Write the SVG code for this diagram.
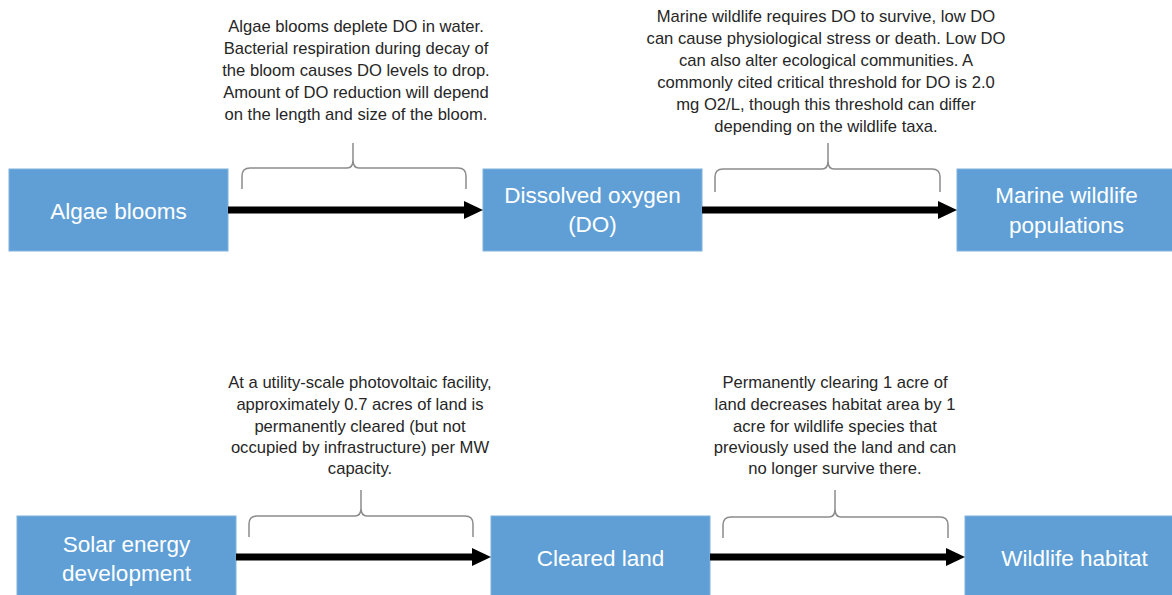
<svg xmlns="http://www.w3.org/2000/svg" width="1172" height="595" viewBox="0 0 1172 595">
<style>
.box{fill:#5F9FD6;stroke:#7FB2DE;stroke-width:1}
.lbl{font-family:"Liberation Sans",Arial,sans-serif;font-size:22.5px;fill:#ffffff;text-anchor:middle}
.note{font-family:"Liberation Sans",Arial,sans-serif;font-size:16.6px;fill:#262626;text-anchor:middle}
.brace{fill:none;stroke:#8C8C8C;stroke-width:1.5}
.shaft{stroke:#000;stroke-width:7}
.head{fill:#000}
</style>
<rect width="1172" height="595" fill="#ffffff"/>

<g id="node-algae">
<rect class="box" x="9" y="169" width="219" height="82"/>
<text class="lbl" x="118.5" y="219">Algae blooms</text>
</g>
<g id="node-do">
<rect class="box" x="483" y="169" width="219" height="82"/>
<text class="lbl" x="592.5" y="203">Dissolved oxygen</text>
<text class="lbl" x="592.5" y="232">(DO)</text>
</g>
<g id="node-marine">
<rect class="box" x="957" y="169" width="219" height="82"/>
<text class="lbl" x="1066.5" y="203">Marine wildlife</text>
<text class="lbl" x="1066.5" y="233">populations</text>
</g>
<g id="node-solar">
<rect class="box" x="17" y="516" width="219" height="82"/>
<text class="lbl" x="126.5" y="552">Solar energy</text>
<text class="lbl" x="126.5" y="581">development</text>
</g>
<g id="node-cleared">
<rect class="box" x="491" y="516" width="219" height="82"/>
<text class="lbl" x="600.5" y="566">Cleared land</text>
</g>
<g id="node-habitat">
<rect class="box" x="965" y="516" width="219" height="82"/>
<text class="lbl" x="1074.5" y="566">Wildlife habitat</text>
</g>

<g id="connectors">
<line class="shaft" x1="228" y1="210" x2="466" y2="210"/>
<polygon class="head" points="464,201 483,210 464,219"/>
<line class="shaft" x1="702" y1="210" x2="940" y2="210"/>
<polygon class="head" points="938,201 957,210 938,219"/>
<line class="shaft" x1="236" y1="557" x2="474" y2="557"/>
<polygon class="head" points="472,548 491,557 472,566"/>
<line class="shaft" x1="710" y1="557" x2="948" y2="557"/>
<polygon class="head" points="946,548 965,557 946,566"/>
</g>

<g id="braces">
<path class="brace" d="M242,189 L242,176 Q242,168 250,168 L347,168 Q353,168 353,160 L353,143 M353,160 Q353,168 359,168 L458,168 Q466,168 466,176 L466,189"/>
<path class="brace" d="M715,192 L715,177 Q715,169 723,169 L822,169 Q828,169 828,161 L828,143 M828,161 Q828,169 834,169 L932,169 Q940,169 940,177 L940,192"/>
<path class="brace" d="M249,537 L249,524 Q249,516 257,516 L355,516 Q361,516 361,508 L361,490 M361,508 Q361,516 367,516 L465,516 Q473,516 473,524 L473,537"/>
<path class="brace" d="M723,538 L723,525 Q723,517 731,517 L829,517 Q835,517 835,509 L835,490 M835,509 Q835,517 841,517 L940,517 Q948,517 948,525 L948,538"/>
</g>

<g id="note-1">
<text class="note" x="356" y="32">Algae blooms deplete DO in water.</text>
<text class="note" x="356" y="54">Bacterial respiration during decay of</text>
<text class="note" x="356" y="76">the bloom causes DO levels to drop.</text>
<text class="note" x="356" y="98">Amount of DO reduction will depend</text>
<text class="note" x="356" y="120">on the length and size of the bloom.</text>
</g>
<g id="note-2">
<text class="note" x="826" y="22">Marine wildlife requires DO to survive, low DO</text>
<text class="note" x="826" y="44">can cause physiological stress or death. Low DO</text>
<text class="note" x="826" y="66">can also alter ecological communities. A</text>
<text class="note" x="826" y="88">commonly cited critical threshold for DO is 2.0</text>
<text class="note" x="826" y="110">mg O2/L, though this threshold can differ</text>
<text class="note" x="826" y="132">depending on the wildlife taxa.</text>
</g>
<g id="note-3">
<text class="note" x="360" y="388">At a utility-scale photovoltaic facility,</text>
<text class="note" x="360" y="410">approximately 0.7 acres of land is</text>
<text class="note" x="360" y="432">permanently cleared (but not</text>
<text class="note" x="360" y="453">occupied by infrastructure) per MW</text>
<text class="note" x="360" y="474">capacity.</text>
</g>
<g id="note-4">
<text class="note" x="835" y="388">Permanently clearing 1 acre of</text>
<text class="note" x="835" y="410">land decreases habitat area by 1</text>
<text class="note" x="835" y="432">acre for wildlife species that</text>
<text class="note" x="835" y="453">previously used the land and can</text>
<text class="note" x="835" y="474">no longer survive there.</text>
</g>
</svg>
